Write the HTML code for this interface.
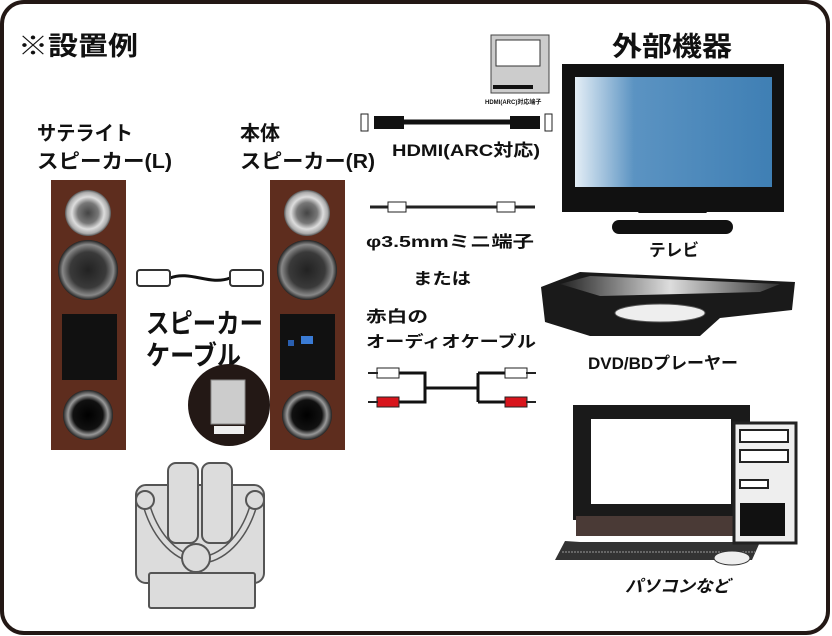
<!DOCTYPE html>
<html><head><meta charset="utf-8"><style>
html,body{margin:0;padding:0;background:#fff;}
svg{display:block;}
text{font-family:"Liberation Sans","Noto Sans CJK JP",sans-serif;font-weight:bold;fill:#111;}
</style></head><body>
<svg width="832" height="636" viewBox="0 0 832 636" xmlns="http://www.w3.org/2000/svg">
<defs>
<linearGradient id="scr" x1="0" x2="1" y1="0" y2="0">
<stop offset="0" stop-color="#e4eef6"/><stop offset="0.3" stop-color="#5b93c2"/><stop offset="1" stop-color="#3f7fb4"/></linearGradient>
<radialGradient id="tw"><stop offset="0" stop-color="#444"/><stop offset="0.45" stop-color="#777"/><stop offset="0.7" stop-color="#ddd"/><stop offset="0.9" stop-color="#aaa"/><stop offset="1" stop-color="#555"/></radialGradient>
<radialGradient id="wf"><stop offset="0" stop-color="#222"/><stop offset="0.6" stop-color="#3a3a3a"/><stop offset="0.85" stop-color="#888"/><stop offset="1" stop-color="#222"/></radialGradient>
<radialGradient id="pt"><stop offset="0" stop-color="#000"/><stop offset="0.6" stop-color="#111"/><stop offset="0.8" stop-color="#999"/><stop offset="1" stop-color="#222"/></radialGradient>
<linearGradient id="dvd" x1="0" x2="1"><stop offset="0" stop-color="#222"/><stop offset="0.5" stop-color="#ddd"/><stop offset="1" stop-color="#333"/></linearGradient>
</defs>
<rect x="2" y="2" width="826" height="631" rx="22" fill="#fff" stroke="#231815" stroke-width="4"/>

<text x="18" y="55" font-size="26" textLength="120" lengthAdjust="spacingAndGlyphs">※設置例</text>
<text x="37" y="140" font-size="20" textLength="96" lengthAdjust="spacingAndGlyphs">サテライト</text>
<text x="37" y="168" font-size="20" textLength="135" lengthAdjust="spacingAndGlyphs">スピーカー(L)</text>
<text x="240" y="140" font-size="20">本体</text>
<text x="240" y="168" font-size="20" textLength="135" lengthAdjust="spacingAndGlyphs">スピーカー(R)</text>

<!-- speakers -->
<g>
<rect x="51" y="180" width="75" height="270" fill="#5e2d1e"/>
<circle cx="88" cy="213" r="23" fill="url(#tw)"/>
<circle cx="88" cy="270" r="30" fill="url(#wf)"/>
<rect x="62" y="314" width="55" height="66" fill="#111"/>
<circle cx="88" cy="415" r="25" fill="url(#pt)"/>
</g>
<g>
<rect x="270" y="180" width="75" height="270" fill="#5e2d1e"/>
<circle cx="307" cy="213" r="23" fill="url(#tw)"/>
<circle cx="307" cy="270" r="30" fill="url(#wf)"/>
<rect x="280" y="314" width="55" height="66" fill="#111"/>
<rect x="301" y="336" width="12" height="8" fill="#3a7bd5"/>
<rect x="288" y="340" width="6" height="6" fill="#2a5fb0"/>
<circle cx="307" cy="415" r="25" fill="url(#pt)"/>
</g>

<!-- speaker cable -->
<path d="M170 278 C190 270 210 286 230 278" stroke="#111" stroke-width="3" fill="none"/>
<rect x="137" y="270" width="33" height="16" rx="3" fill="#fff" stroke="#333" stroke-width="2"/>
<rect x="230" y="270" width="33" height="16" rx="3" fill="#fff" stroke="#333" stroke-width="2"/>
<text x="146" y="333" font-size="27" font-weight="normal" textLength="117" lengthAdjust="spacingAndGlyphs">スピーカー</text>
<text x="146" y="365" font-size="27" font-weight="normal" textLength="95" lengthAdjust="spacingAndGlyphs">ケーブル</text>
<circle cx="229" cy="405" r="41" fill="#231815"/>
<rect x="211" y="380" width="34" height="44" fill="#ccc" stroke="#888"/>
<rect x="214" y="426" width="30" height="8" fill="#eee"/>

<!-- chair -->
<g fill="#dcdcdc" stroke="#555" stroke-width="2">
<rect x="136" y="485" width="128" height="98" rx="10"/>
<rect x="168" y="463" width="30" height="80" rx="8"/>
<rect x="202" y="463" width="30" height="80" rx="8"/>
<path d="M145 500 C155 540 180 560 200 560 C220 560 245 540 255 500" fill="none" stroke-width="8" stroke="#555"/>
<path d="M145 500 C155 540 180 560 200 560 C220 560 245 540 255 500" fill="none" stroke-width="5" stroke="#dcdcdc"/>
<circle cx="145" cy="500" r="9"/><circle cx="255" cy="500" r="9"/>
<circle cx="196" cy="558" r="14"/>
<rect x="149" y="573" width="106" height="35" rx="2"/>
</g>

<!-- HDMI -->
<rect x="361" y="114" width="7" height="17" fill="#fff" stroke="#222"/>
<rect x="374" y="116" width="30" height="13" fill="#111"/>
<line x1="404" y1="122" x2="510" y2="122" stroke="#111" stroke-width="5"/>
<rect x="510" y="116" width="30" height="13" fill="#111"/>
<rect x="545" y="114" width="7" height="17" fill="#fff" stroke="#222"/>
<rect x="491" y="35" width="58" height="58" fill="#ccc" stroke="#444"/>
<rect x="496" y="40" width="44" height="26" fill="#fff" stroke="#333"/>
<rect x="493" y="85" width="40" height="4" fill="#111"/>
<text x="485" y="104" font-size="6">HDMI(ARC)対応端子</text>
<text x="392" y="156" font-size="17" textLength="148" lengthAdjust="spacingAndGlyphs">HDMI(ARC対応)</text>

<!-- 3.5mm -->
<line x1="370" y1="207" x2="535" y2="207" stroke="#222" stroke-width="3"/>
<rect x="388" y="202" width="18" height="10" fill="#fff" stroke="#222"/>
<rect x="497" y="202" width="18" height="10" fill="#fff" stroke="#222"/>
<text x="366" y="247" font-size="16" textLength="168" lengthAdjust="spacingAndGlyphs">φ3.5mmミニ端子</text>
<text x="413" y="284" font-size="16" textLength="58" lengthAdjust="spacingAndGlyphs">または</text>
<text x="366" y="322" font-size="16" textLength="62" lengthAdjust="spacingAndGlyphs">赤白の</text>
<text x="366" y="347" font-size="16" textLength="170" lengthAdjust="spacingAndGlyphs">オーディオケーブル</text>
<!-- RCA -->
<path d="M392 373 H425 V402 H392 M425 388 H478 M478 373 V402 M478 373 H512 M478 402 H512" stroke="#111" stroke-width="3" fill="none"/>
<rect x="377" y="368" width="22" height="10" fill="#fff" stroke="#222"/>
<rect x="377" y="397" width="22" height="10" fill="#d8151c" stroke="#222"/>
<rect x="505" y="368" width="22" height="10" fill="#fff" stroke="#222"/>
<rect x="505" y="397" width="22" height="10" fill="#d8151c" stroke="#222"/>
<line x1="368" y1="373" x2="378" y2="373" stroke="#222" stroke-width="2"/>
<line x1="368" y1="402" x2="378" y2="402" stroke="#222" stroke-width="2"/>
<line x1="526" y1="373" x2="536" y2="373" stroke="#222" stroke-width="2"/>
<line x1="526" y1="402" x2="536" y2="402" stroke="#222" stroke-width="2"/>

<!-- TV -->
<text x="612" y="56" font-size="27" textLength="120" lengthAdjust="spacingAndGlyphs">外部機器</text>
<rect x="562" y="64" width="222" height="148" fill="#111"/>
<rect x="575" y="77" width="197" height="110" fill="url(#scr)"/>
<path d="M638 213 L648 200 L697 200 L707 213 Z" fill="#111"/>
<rect x="612" y="220" width="121" height="14" rx="7" fill="#111"/>
<text x="649" y="256" font-size="17" textLength="50" lengthAdjust="spacingAndGlyphs">テレビ</text>

<!-- DVD -->
<path d="M541 287 L580 272 L795 282 L792 310 L720 318 L700 336 L590 336 L545 322 Z" fill="#1a1a1a"/>
<path d="M560 284 L590 276 L780 284 L760 292 L600 296 Z" fill="url(#dvd)"/>
<ellipse cx="660" cy="313" rx="45" ry="9" fill="#eee" stroke="#555"/>
<text x="588" y="369" font-size="17" textLength="150" lengthAdjust="spacingAndGlyphs">DVD/BDプレーヤー</text>

<!-- PC -->
<rect x="573" y="405" width="177" height="115" fill="#1a1a1a"/>
<rect x="591" y="419" width="140" height="85" fill="#fff"/>
<rect x="576" y="516" width="172" height="20" fill="#4a3a36"/>
<path d="M565 541 L580 542 L760 542 L752 560 L555 560 Z" fill="#333"/>
<line x1="562" y1="552" x2="755" y2="552" stroke="#999" stroke-width="1" stroke-dasharray="2 1"/>
<rect x="734" y="423" width="62" height="120" fill="#eee" stroke="#222" stroke-width="3"/>
<rect x="740" y="430" width="48" height="12" fill="#fff" stroke="#222" stroke-width="2"/>
<rect x="740" y="450" width="48" height="12" fill="#fff" stroke="#222" stroke-width="2"/>
<rect x="740" y="480" width="28" height="8" fill="#fff" stroke="#222" stroke-width="2"/>
<rect x="740" y="503" width="45" height="33" fill="#111"/>
<ellipse cx="732" cy="558" rx="18" ry="7" fill="#eee" stroke="#333"/>
<text x="625" y="592" font-size="17" font-style="italic" textLength="105" lengthAdjust="spacingAndGlyphs">パソコンなど</text>
</svg>
</body></html>
